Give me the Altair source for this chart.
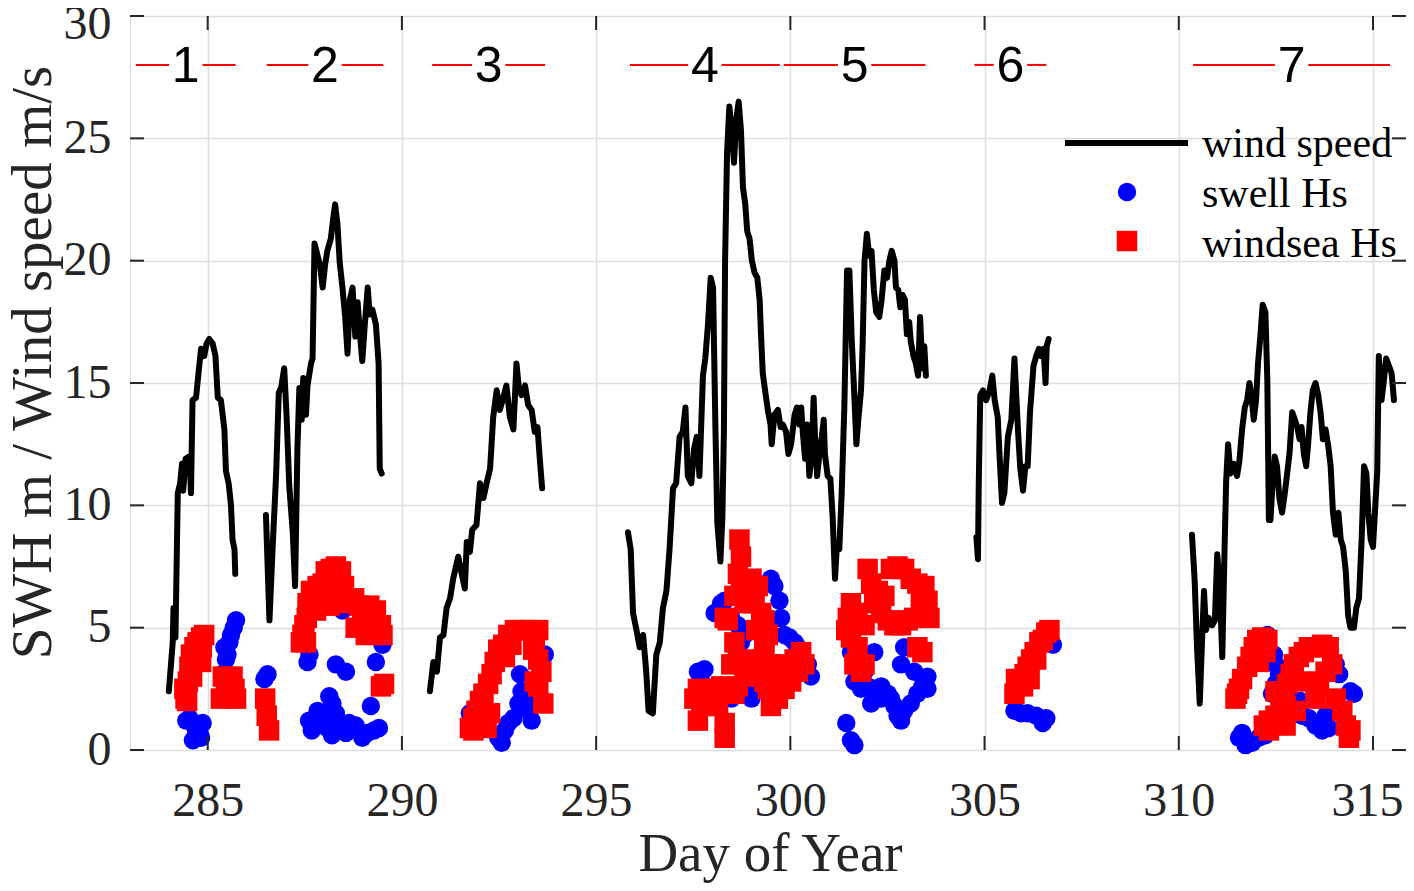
import altair as alt
import pandas as pd

# ---------------- data ----------------
wind1_day = [284.00, 284.06, 284.10, 284.12, 284.17, 284.23, 284.29, 284.34, 284.37, 284.43, 284.53, 284.57,
             284.61, 284.70, 284.77, 284.83, 284.91, 284.97, 285.04, 285.13, 285.20, 285.26, 285.34, 285.43,
             285.47, 285.54, 285.60, 285.64, 285.69, 285.71]
wind1_val = [2.4, 3.6, 4.4, 5.8, 4.6, 10.5, 10.9, 11.7, 10.6, 11.9, 12.0, 10.5,
             14.3, 14.4, 15.5, 16.4, 16.1, 16.6, 16.8, 16.6, 16.1, 14.4, 14.3, 13.1,
             11.4, 10.9, 10.0, 8.6, 8.2, 7.2]

wind2_day = [286.50, 286.59, 286.67, 286.76, 286.83, 286.89, 286.97, 287.03, 287.10, 287.19, 287.25, 287.31,
             287.36, 287.42, 287.46, 287.53, 287.57, 287.66, 287.70, 287.75, 287.83, 287.89, 287.96, 288.02,
             288.08, 288.17, 288.23, 288.28, 288.34, 288.40, 288.47, 288.54, 288.60, 288.66, 288.73, 288.80,
             288.86, 288.92, 288.98, 289.05, 289.12, 289.17, 289.24, 289.33, 289.40, 289.43, 289.48]
wind2_val = [9.6, 5.3, 8.2, 11.2, 14.6, 14.8, 15.6, 13.7, 10.8, 8.9, 6.7, 12.3,
             14.8, 13.5, 15.2, 13.7, 14.9, 15.8, 16.0, 20.7, 20.2, 19.8, 18.9, 19.8,
             20.4, 20.9, 21.7, 22.3, 21.5, 19.9, 18.9, 17.7, 16.2, 18.4, 18.9, 16.9,
             18.3, 17.0, 15.9, 17.5, 18.9, 17.8, 18.0, 17.4, 15.8, 11.5, 11.3]

wind3_day = [290.72, 290.81, 290.90, 290.98, 291.07, 291.15, 291.24, 291.32, 291.45, 291.54, 291.62, 291.67,
             291.75, 291.81, 291.92, 292.01, 292.10, 292.18, 292.27, 292.35, 292.44, 292.52, 292.61, 292.69,
             292.78, 292.87, 292.95, 293.01, 293.08, 293.17, 293.25, 293.34, 293.42, 293.49, 293.55, 293.61]
wind3_val = [2.4, 3.6, 3.2, 4.6, 4.7, 5.8, 6.2, 7.0, 7.9, 7.2, 6.6, 8.5,
             8.1, 9.0, 9.2, 10.9, 10.3, 10.9, 11.5, 13.6, 14.7, 13.9, 14.4, 14.9,
             13.6, 13.1, 15.8, 14.8, 14.5, 14.9, 14.1, 13.9, 13.0, 13.2, 11.9, 10.7]

wind45_day = [295.82, 295.89, 295.95, 296.04, 296.12, 296.21, 296.29, 296.35, 296.46, 296.55, 296.64, 296.72,
              296.81, 296.89, 296.98, 297.06, 297.15, 297.23, 297.30, 297.36, 297.45, 297.52, 297.59, 297.66,
              297.75, 297.81, 297.88, 297.95, 298.01, 298.07, 298.12, 298.20, 298.25, 298.29, 298.32, 298.37,
              298.43, 298.50, 298.55, 298.61, 298.67, 298.73, 298.78, 298.84, 298.89, 298.95, 299.01, 299.08,
              299.15, 299.21, 299.25, 299.29, 299.35, 299.42, 299.49, 299.52, 299.59, 299.68, 299.75, 299.81,
              299.89, 299.95, 300.02, 300.11, 300.17, 300.23, 300.28, 300.32, 300.38, 300.43, 300.49, 300.55,
              300.60, 300.64, 300.69, 300.75, 300.81, 300.86, 300.89, 300.96, 301.03, 301.09, 301.15, 301.20,
              301.26, 301.32, 301.39, 301.46, 301.52, 301.58, 301.65, 301.70, 301.75, 301.82, 301.86, 301.91,
              301.97, 302.03, 302.09, 302.15, 302.21, 302.29, 302.35, 302.42, 302.49, 302.55, 302.61, 302.68,
              302.72, 302.78, 302.83, 302.89, 302.95, 303.00, 303.06, 303.10, 303.17, 303.23, 303.29, 303.34,
              303.40, 303.45, 303.49]
wind45_val = [8.9, 8.2, 5.6, 4.9, 4.2, 4.7, 3.2, 1.6, 1.5, 3.9, 4.4, 5.8,
              6.5, 8.2, 10.7, 10.9, 12.8, 13.0, 14.0, 11.2, 10.9, 12.3, 12.8, 11.2,
              15.3, 16.0, 17.4, 19.3, 18.9, 13.3, 9.3, 7.7, 9.5, 13.0, 20.0, 24.4,
              26.3, 25.1, 24.0, 25.8, 26.5, 25.3, 23.0, 22.3, 21.2, 20.9, 20.0, 19.5,
              19.3, 18.4, 16.8, 15.4, 14.7, 13.9, 13.3, 12.5, 13.7, 13.9, 13.2, 13.3,
              13.0, 12.1, 12.5, 13.7, 14.0, 13.3, 14.0, 13.0, 11.9, 13.3, 11.2, 12.1,
              14.4, 12.6, 11.2, 12.1, 12.8, 13.5, 12.1, 11.2, 11.1, 9.5, 7.0, 8.4,
              8.2, 10.4, 14.0, 19.6, 19.6, 16.8, 14.4, 12.5, 13.5, 14.7, 16.5, 20.0,
              21.1, 20.2, 20.4, 18.8, 17.9, 17.7, 18.4, 19.6, 19.3, 20.0, 20.4, 20.0,
              18.9, 18.8, 18.1, 18.6, 18.4, 17.0, 17.5, 16.7, 16.1, 15.8, 15.3, 17.7,
              15.6, 16.5, 15.3]

wind6_day = [304.79, 304.83, 304.85, 304.89, 304.96, 305.04, 305.13, 305.20, 305.26, 305.34, 305.39, 305.45,
             305.51, 305.60, 305.69, 305.77, 305.86, 305.92, 305.99, 306.05, 306.11, 306.17, 306.26, 306.33,
             306.40, 306.46, 306.52, 306.57, 306.60, 306.65]
wind6_val = [8.7, 7.8, 10.8, 14.5, 14.7, 14.3, 14.7, 15.3, 14.3, 13.6, 11.9, 10.1,
             10.5, 12.8, 13.5, 16.0, 13.1, 11.5, 10.6, 11.6, 11.6, 13.8, 15.7, 16.1,
             16.4, 16.1, 16.4, 15.0, 16.5, 16.8]

wind7_day = [310.34, 310.41, 310.47, 310.54, 310.60, 310.65, 310.70, 310.77, 310.86, 310.93, 310.99, 311.05,
             311.12, 311.18, 311.22, 311.27, 311.33, 311.42, 311.50, 311.56, 311.63, 311.70, 311.76, 311.82,
             311.87, 311.93, 311.99, 312.04, 312.10, 312.16, 312.23, 312.28, 312.32, 312.36, 312.42, 312.47,
             312.53, 312.59, 312.66, 312.73, 312.79, 312.85, 312.92, 312.99, 313.05, 313.11, 313.16, 313.22,
             313.28, 313.33, 313.39, 313.45, 313.52, 313.59, 313.65, 313.71, 313.78, 313.85, 313.91, 313.97,
             314.04, 314.11, 314.17, 314.23, 314.30, 314.36, 314.42, 314.51, 314.57, 314.64, 314.71, 314.77,
             314.83, 314.88, 314.94, 315.00, 315.05, 315.11, 315.15, 315.22, 315.28, 315.34, 315.41, 315.48,
             315.54]
wind7_val = [8.8, 6.9, 4.2, 1.9, 4.5, 6.5, 4.9, 5.4, 5.1, 5.3, 8.0, 6.9,
             3.8, 8.3, 11.0, 12.5, 11.3, 11.7, 11.2, 11.8, 13.1, 14.0, 14.3, 15.0,
             14.5, 13.5, 14.3, 15.8, 16.9, 18.2, 17.9, 15.1, 9.4, 9.4, 11.0, 12.0,
             11.6, 10.3, 9.7, 10.5, 11.3, 12.1, 13.8, 13.5, 13.2, 12.7, 13.2, 12.1,
             11.6, 12.5, 13.8, 14.7, 15.0, 14.5, 13.8, 12.7, 13.1, 12.4, 11.6, 9.7,
             8.8, 9.7, 8.6, 8.3, 7.3, 5.5, 5.0, 5.0, 5.8, 6.2, 8.7, 11.6,
             11.3, 9.7, 8.6, 8.3, 9.7, 11.4, 16.1, 14.3, 15.1, 16.0, 15.7, 15.4,
             14.3]

swell_day = [284.53, 284.66, 284.79, 284.62, 284.87, 284.83, 284.45, 284.70,
             285.73, 285.60, 285.56, 285.51, 285.47, 285.37, 285.43, 285.67,
             286.54, 286.46, 287.57, 287.62, 288.30, 288.56, 289.33, 289.50, 289.50, 288.47, 289.20,
             287.61, 287.74, 287.83, 287.96, 288.13, 288.21, 288.08, 288.30, 288.34, 288.56, 288.64,
             288.81, 288.98, 289.11, 289.28, 289.41, 287.68, 287.90, 288.20,
             291.75, 292.48, 292.57, 292.74, 292.87, 293.00, 293.08, 293.04, 293.17, 293.34, 293.68, 292.65, 293.25,
             297.62, 297.79, 297.71, 298.05, 298.22, 298.31, 298.48, 298.65, 298.73, 298.82, 298.90,
             299.50, 299.59, 299.72, 299.76, 299.85, 299.98, 300.11, 300.19, 300.28, 300.45, 300.53,
             298.48, 298.82, 299.00,
             301.44, 301.56, 301.65, 301.56, 302.16, 301.65, 301.82, 301.99, 302.16, 302.34, 302.51,
             302.59, 302.68, 302.76, 302.85, 302.93, 303.10, 303.27, 303.40, 303.53, 303.53, 302.93,
             302.85, 303.19, 301.91, 302.08, 302.34,
             305.77, 305.94, 306.11, 306.33, 306.50, 306.59, 306.76,
             311.55, 311.72, 311.89, 312.06, 312.23, 311.63, 312.28, 312.45, 312.49, 312.58, 312.49,
             312.40, 313.17, 313.35, 313.52, 313.69, 313.86, 313.78, 314.04, 314.13, 314.42, 314.51, 313.13]
swell_hs = [1.3, 1.0, 0.7, 0.4, 1.1, 0.5, 1.2, 0.8,
            5.3, 4.7, 4.4, 3.9, 3.7, 3.1, 4.2, 5.0,
            3.1, 2.9, 3.6, 3.9, 3.5, 3.2, 3.6, 4.3, 5.0, 5.7, 1.8,
            1.2, 1.0, 1.6, 1.5, 2.2, 1.9, 0.9, 1.5, 1.0, 0.7, 1.1,
            1.0, 0.5, 0.7, 0.8, 0.9, 0.8, 1.2, 0.6,
            1.5, 0.5, 0.3, 1.1, 1.3, 1.9, 2.4, 3.1, 1.7, 1.2, 3.9, 0.8, 2.2,
            3.2, 3.3, 2.8, 5.6, 6.0, 6.1, 5.4, 5.1, 4.4, 4.7, 2.5,
            7.0, 6.7, 6.1, 5.4, 4.7, 4.6, 4.4, 4.2, 3.9, 3.5, 3.0,
            2.1, 2.3, 2.1,
            1.1, 0.4, 0.2, 4.0, 4.0, 2.8, 2.5, 2.6, 2.5, 2.6, 2.3,
            2.1, 1.8, 1.4, 1.2, 1.6, 1.9, 2.3, 2.6, 3.0, 2.5, 4.2,
            3.5, 3.2, 3.2, 1.9, 2.1,
            1.6, 1.5, 1.5, 1.4, 1.1, 1.3, 4.3,
            0.5, 0.2, 0.3, 0.5, 0.6, 0.7, 4.7, 3.9, 3.5, 3.1, 2.7,
            2.3, 1.4, 1.3, 1.0, 0.8, 0.9, 1.4, 3.5, 3.1, 2.4, 2.3, 2.0]

windsea_day = [284.43, 284.49, 284.53, 284.57, 284.66, 284.74, 284.83, 284.91, 284.83, 284.60, 284.40, 284.47, 284.70, 284.85,
               285.39, 285.64, 285.56, 285.73, 285.34, 285.47, 285.69,
               286.48, 286.58, 286.52,
               287.53, 287.49, 287.57, 287.66, 287.74, 287.83, 287.96, 288.04, 288.17, 288.30, 288.43, 288.51,
               288.21, 288.13, 287.79, 288.64, 288.77, 288.90, 288.98, 289.16, 289.33, 289.46, 289.50, 288.81,
               289.07, 289.46, 289.54, 287.40, 287.44, 287.55, 288.00, 288.35,
               291.75, 291.84, 291.92, 292.01, 292.10, 292.22, 292.31, 292.39, 292.48, 292.61, 292.74, 292.91,
               293.08, 293.29, 293.51, 293.42, 293.38, 293.51, 293.59, 293.42, 293.51, 293.64, 292.01, 292.27,
               292.18, 291.84, 292.65, 292.82,
               298.69, 298.73, 298.65, 298.73, 298.56, 298.82, 299.00, 299.16, 299.08, 299.25, 299.33, 299.12,
               299.42, 299.33, 298.39, 298.31, 298.56, 298.48, 298.65, 298.82, 299.00, 299.16, 299.33, 299.50,
               299.68, 299.85, 300.11, 300.28, 300.36, 300.19, 300.02, 299.85, 299.68, 299.50, 299.42, 299.59,
               299.33, 297.62, 297.53, 297.71, 297.62, 297.88, 298.05, 298.22, 298.39, 298.56, 298.31, 298.31,
               298.14, 298.65, 298.82,
               301.56, 301.48, 301.44, 301.56, 301.73, 301.65, 301.91, 301.82, 301.99, 302.08, 302.25, 302.16,
               302.42, 302.59, 302.76, 302.93, 303.10, 303.27, 303.45, 303.53, 303.58, 303.36, 303.19, 303.02,
               302.85, 302.68, 302.51, 302.34, 301.91, 301.73, 303.27, 303.40,
               305.77, 305.90, 306.03, 306.11, 306.20, 306.29, 306.41, 306.59, 306.67, 306.50, 306.33, 306.16,
               305.99, 305.81,
               311.46, 311.55, 311.63, 311.76, 311.85, 311.93, 312.02, 312.15, 312.28, 312.23, 312.06, 312.19,
               312.32, 312.49, 312.62, 312.71, 312.79, 312.88, 312.96, 313.09, 313.22, 313.35, 313.52, 313.69,
               313.86, 313.95, 313.78, 313.61, 314.04, 314.21, 314.30, 314.38, 314.42, 313.01, 312.75, 312.32,
               313.31, 313.52, 312.49, 312.75, 311.50]
windsea_hs = [2.1, 2.8, 3.4, 3.9, 4.2, 4.4, 4.6, 4.7, 3.6, 3.0, 2.5, 2.0, 3.9, 4.2,
              3.0, 3.0, 2.4, 2.1, 2.1, 2.7, 2.5,
              2.1, 0.8, 1.4,
              4.4, 5.1, 6.0, 6.5, 6.3, 6.7, 6.8, 7.3, 7.4, 7.5, 7.3, 6.7,
              6.3, 5.9, 5.7, 6.0, 6.2, 5.9, 5.4, 5.9, 5.7, 5.1, 4.7, 5.0,
              4.7, 2.6, 2.7, 4.4, 4.7, 5.4, 6.2, 6.9,
              0.9, 1.3, 1.6, 2.0, 2.3, 2.7, 3.1, 3.6, 4.1, 4.3, 4.7, 4.9,
              4.9, 4.9, 4.9, 4.5, 4.1, 3.7, 3.2, 2.8, 2.6, 1.9, 1.1, 1.5,
              0.9, 0.8, 3.8, 4.3,
              8.6, 7.9, 7.2, 6.5, 6.3, 6.0, 7.0, 6.7, 6.0, 5.6, 5.3, 4.9,
              4.7, 4.4, 5.3, 5.4, 4.4, 3.5, 3.7, 3.5, 3.3, 3.7, 3.9, 3.5,
              3.3, 3.5, 3.7, 4.0, 3.5, 3.2, 2.8, 2.5, 2.1, 1.8, 2.5, 2.8,
              2.8, 2.5, 2.1, 1.8, 1.2, 2.3, 2.5, 2.6, 2.5, 2.3, 1.1, 0.5,
              1.8, 2.6, 3.0,
              6.0, 5.4, 4.9, 4.6, 4.2, 3.5, 3.5, 3.2, 7.4, 6.8, 6.5, 6.0,
              6.3, 7.4, 7.5, 7.4, 7.0, 6.8, 6.7, 6.1, 5.4, 6.0, 5.4, 5.3,
              5.1, 5.1, 5.3, 5.6, 5.1, 5.6, 4.2, 4.0,
              2.3, 2.9, 3.1, 3.4, 3.7, 4.0, 4.4, 4.8, 4.9, 4.5, 3.7, 2.9,
              2.6, 2.9,
              2.1, 2.5, 2.9, 3.4, 3.8, 4.2, 4.5, 4.6, 4.5, 4.0, 3.6, 1.0,
              1.2, 1.4, 1.8, 2.3, 2.7, 3.1, 3.5, 3.8, 4.0, 4.2, 4.2, 4.3,
              4.2, 3.5, 3.2, 2.7, 2.1, 1.6, 1.0, 0.5, 0.8, 1.6, 1.0, 0.8,
              2.8, 2.1, 2.4, 1.8, 2.3]

event_labels = ["1", "2", "3", "4", "5", "6", "7"]
event_start = [283.15, 286.52, 290.78, 295.87, 299.83, 304.74, 310.37]
event_end = [285.72, 289.52, 293.69, 299.73, 303.48, 306.59, 315.44]
event_level = 28

x_ticks = [285, 290, 295, 300, 305, 310, 315]
y_ticks = [0, 5, 10, 15, 20, 25, 30]
legend_labels = ["wind speed", "swell Hs", "windsea Hs"]

# ---------------- tables ----------------
wind_rows = []
for seg, (dd, vv) in enumerate([(wind1_day, wind1_val), (wind2_day, wind2_val), (wind3_day, wind3_val),
                                (wind45_day, wind45_val), (wind6_day, wind6_val), (wind7_day, wind7_val)]):
    for i, (d, v) in enumerate(zip(dd, vv)):
        wind_rows.append({"day": d, "val": v, "seg": seg, "order": i})
wind_df = pd.DataFrame(wind_rows)
swell_df = pd.DataFrame({"day": swell_day, "val": swell_hs})
sea_df = pd.DataFrame({"day": windsea_day, "val": windsea_hs})

GAP = 0.43
seg_rows, lab_rows = [], []
for lab, s, e in zip(event_labels, event_start, event_end):
    mid = (s + e) / 2
    seg_rows.append({"day": s, "day2": mid - GAP, "val": event_level})
    seg_rows.append({"day": mid + GAP, "day2": e, "val": event_level})
    lab_rows.append({"day": mid, "val": event_level, "lab": lab})
seg_df = pd.DataFrame(seg_rows)
lab_df = pd.DataFrame(lab_rows)
xt_df = pd.DataFrame({"day": x_ticks})
yt_df = pd.DataFrame({"val": y_ticks})

# ---------------- styling ----------------
W, H = 1276, 734
TXT = "#262626"
SERIF = "Liberation Serif"
TL = 14  # tick length

xs = alt.Scale(domain=[283, 315.85], nice=False, zero=False)
ys = alt.Scale(domain=[0, 30], nice=False, zero=True)

x_axis = alt.Axis(values=x_ticks, grid=True, gridColor="#dedede", gridWidth=1.5, ticks=False, tickSize=0,
                  domain=False, labelFont=SERIF, labelFontSize=48, labelColor=TXT, labelPadding=65,
                  labelBaseline="alphabetic",
                  labelOffset={"condition": {"test": "datum.value === 315", "value": -6}, "value": 0},
                  title="Day of Year", titleFont=SERIF, titleFontSize=55,
                  titleFontWeight="normal", titleColor=TXT, titleX=W / 2 + 2, titleY=120,
                  titleBaseline="alphabetic", titleAlign="center")
y_axis = alt.Axis(values=y_ticks, grid=True, gridColor="#dedede", gridWidth=1.5, ticks=False, tickSize=0,
                  domain=False, labelFont=SERIF, labelFontSize=48, labelColor=TXT, labelPadding=19,
                  labelOffset={"condition": {"test": "datum.value === 30", "value": 8}, "value": 0},
                  title="SWH m / Wind speed m/s", titleFont=SERIF, titleFontSize=57,
                  titleFontWeight="normal", titleColor=TXT, titleX=-80, titleY=346,
                  titleBaseline="alphabetic", titleAlign="center", titleAngle=270)


def X(field="day"):
    return alt.X(f"{field}:Q", scale=xs, axis=x_axis)


def Y(field="val"):
    return alt.Y(f"{field}:Q", scale=ys, axis=y_axis)


wind = alt.Chart(wind_df).mark_line(color="black", strokeWidth=6, strokeJoin="round", strokeCap="round").encode(
    x=X(), y=Y(), detail="seg:N", order="order:Q")
swell = alt.Chart(swell_df).mark_point(shape="circle", filled=True, color="#0000ff", opacity=1, size=340,
                                       strokeWidth=0).encode(x=X(), y=Y())
sea = alt.Chart(sea_df).mark_point(shape="square", filled=True, color="#ff0000", opacity=1, size=420,
                                   strokeWidth=0).encode(x=X(), y=Y())
segs = alt.Chart(seg_df).mark_rule(color="#ff0000", strokeWidth=2).encode(x=X(), x2="day2:Q", y=Y())
labs = alt.Chart(lab_df).mark_text(font="Liberation Sans", fontSize=50, color="black", baseline="middle",
                                   align="center", dy=2).encode(x=X(), y=Y(), text="lab:N")

tick_b = alt.Chart(xt_df).mark_rule(color=TXT, strokeWidth=2).encode(x=X(), y=alt.value(H), y2=alt.value(H - TL))
tick_t = alt.Chart(xt_df).mark_rule(color=TXT, strokeWidth=2).encode(x=X(), y=alt.value(0), y2=alt.value(TL))
tick_l = alt.Chart(yt_df).mark_rule(color=TXT, strokeWidth=2).encode(y=Y(), x=alt.value(0), x2=alt.value(TL))
tick_r = alt.Chart(yt_df).mark_rule(color=TXT, strokeWidth=2).encode(y=Y(), x=alt.value(W), x2=alt.value(W - TL))

# legend (drawn by hand, top right inside the axes)
LX_T = 1072
leg_line = alt.Chart(pd.DataFrame({"lab": [legend_labels[0]]})).mark_rule(color="black", strokeWidth=6).encode(
    x=alt.value(935), x2=alt.value(1058), y=alt.value(127))
leg_c = alt.Chart(pd.DataFrame({"lab": [legend_labels[1]]})).mark_point(
    shape="circle", filled=True, color="#0000ff", opacity=1, size=340, strokeWidth=0).encode(
    x=alt.value(997), y=alt.value(176))
leg_s = alt.Chart(pd.DataFrame({"lab": [legend_labels[2]]})).mark_point(
    shape="square", filled=True, color="#ff0000", opacity=1, size=420, strokeWidth=0).encode(
    x=alt.value(997), y=alt.value(225))
leg_txt = alt.Chart(pd.DataFrame({"lab": legend_labels, "yy": [141, 191, 241]})).mark_text(
    font=SERIF, fontSize=42, color="black", align="left", baseline="alphabetic").encode(
    x=alt.value(LX_T), y=alt.Y("yy:Q", scale=None), text="lab:N")

chart = alt.layer(
    wind, swell, sea, segs, labs, tick_b, tick_t, tick_l, tick_r, leg_line, leg_c, leg_s, leg_txt
).properties(
    width=W, height=H, autosize="none",
    padding={"left": 122, "top": 8, "right": 0, "bottom": 133},
).configure_view(stroke=TXT, strokeWidth=2).configure(background="white")

chart.save("out.html", embed_options={"renderer": "svg", "actions": False})
